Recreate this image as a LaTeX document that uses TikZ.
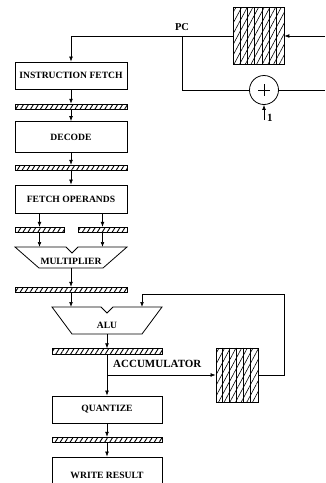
\documentclass[tikz,border=0pt]{standalone}
\usepackage{fontspec}
\setmainfont{Liberation Serif}
\usetikzlibrary{patterns.meta,arrows.meta}

\tikzset{
  stage/.style={draw, line width=0.8pt, minimum width=112pt, minimum height=27pt,
    inner sep=0pt, font=\fontsize{9.6}{11}\selectfont\bfseries},
  latch/.style={draw, line width=0.8pt, minimum width=112pt, minimum height=5.5pt, inner sep=0pt,
    pattern={Lines[angle=58,distance=4.2pt,line width=0.9pt]}},
  reg/.style={draw, line width=0.8pt, inner sep=0pt,
    pattern={Lines[angle=62,distance=5pt,line width=0.6pt]}},
  wire/.style={line width=0.7pt},
  flow/.style={line width=0.7pt, -{Latex[length=5pt,width=3.8pt]}},
  lbl/.style={inner sep=0pt, font=\fontsize{10.5}{12}\selectfont\bfseries},
}

\begin{document}
\begin{tikzpicture}[x=1pt, y=-1pt]
    \clip (0,0) rectangle (325,483);

    % PC register and incrementer
    \node[reg, minimum width=51pt, minimum height=57pt] (pcreg) at (258.5,36) {};
    \foreach \i in {1,...,6}
        \draw[wire] ([xshift=\i*7.3pt]pcreg.north west) -- ([xshift=\i*7.3pt]pcreg.south west);
    \node[draw, circle, line width=0.8pt, minimum size=29pt, inner sep=0pt] (adder) at (264,90) {};
    \draw[wire] ([yshift=6pt]adder.center) -- ([yshift=-6pt]adder.center)
                ([xshift=-6pt]adder.center) -- ([xshift=6pt]adder.center);
    \coordinate (pcin) at (325,36);
    \coordinate (addout) at (325,90);
    \coordinate (split) at (182,36);
    \coordinate (one) at (264,120);
    \node[lbl, anchor=south] (pclbl) at (182,31) {PC};
    \node[lbl, anchor=west, font=\fontsize{11}{12}\selectfont\bfseries] (onelbl) at (267,118) {1};

    % Pipeline stages
    \node[stage] (ifetch) at (71,75.5) {INSTRUCTION FETCH};
    \node[latch] (l1) at (71,107) {};
    \node[stage, minimum height=31pt] (decode) at (71,137) {DECODE};
    \node[latch] (l2) at (71,168) {};
    \node[stage, minimum height=28pt] (fetchop) at (71,199) {FETCH OPERANDS};
    \node[latch, minimum width=49pt] (l3a) at (39.5,230) {};
    \node[latch, minimum width=49pt] (l3b) at (102.5,230) {};

    % Multiplier
    \draw[line width=0.8pt] (15,247) -- (66,247) -- (72,253) -- (78,247) -- (127,247)
        -- (103,268) -- (39,268) -- cycle;
    \node[lbl, font=\fontsize{9.6}{11}\selectfont\bfseries] (mul) at (71,261) {MULTIPLIER};
    \coordinate (mulina) at (39.5,247);
    \coordinate (mulinb) at (102.5,247);
    \coordinate (mulout) at (71,268);
    \node[latch] (l4) at (71,290) {};

    % ALU
    \draw[line width=0.8pt] (52,307) -- (101,307) -- (107,313) -- (113,307) -- (162,307)
        -- (142,334) -- (72,334) -- cycle;
    \node[lbl, font=\fontsize{9.6}{11}\selectfont\bfseries] (alu) at (107,325) {ALU};
    \coordinate (aluina) at (71,307);
    \coordinate (aluinb) at (142,307);
    \coordinate (aluout) at (107,334);
    \node[latch, minimum width=110pt] (l5) at (107,351.5) {};

    % Accumulator
    \coordinate (tap) at (107,375);
    \coordinate (fbcorner) at (284,294);
    \node[reg, minimum width=42pt, minimum height=54pt] (accreg) at (237,375) {};
    \foreach \i in {1,...,5}
        \draw[wire] ([xshift=\i*7pt]accreg.north west) -- ([xshift=\i*7pt]accreg.south west);
    \node[lbl, anchor=west, font=\fontsize{11}{12}\selectfont\bfseries] (acclbl) at (113,364) {ACCUMULATOR};

    \node[stage, minimum width=110pt] (quant) at (107,409.5) {QUANTIZE};
    \node[latch, minimum width=110pt] (l6) at (107,440) {};
    \node[stage, minimum width=110pt, minimum height=36pt] (write) at (107,475) {WRITE RESULT};

    % Connections
    \draw[flow] (pcin) -- (pcreg.east);
    \draw[flow] (pcreg.west) -| (ifetch.north);
    \draw[wire] (split) |- (adder.west);
    \draw[wire] (adder.east) -- (addout);
    \draw[flow] (one) -- (adder.south);

    \draw[flow] (ifetch.south) -- (l1.north);
    \draw[flow] (l1.south) -- (decode.north);
    \draw[flow] (decode.south) -- (l2.north);
    \draw[flow] (l2.south) -- (fetchop.north);
    \draw[flow] (fetchop.south -| l3a) -- (l3a.north);
    \draw[flow] (fetchop.south -| l3b) -- (l3b.north);
    \draw[flow] (l3a.south) -- (mulina);
    \draw[flow] (l3b.south) -- (mulinb);
    \draw[flow] (mulout) -- (l4.north);
    \draw[flow] (l4.south) -- (aluina);
    \draw[flow] (aluout) -- (l5.north);
    \draw[flow] (l5.south) -- (quant.north);
    \draw[flow] (tap) -- (accreg.west);
    \draw[flow] (accreg.east) -| (fbcorner) -| (aluinb);
    \draw[flow] (quant.south) -- (l6.north);
    \draw[flow] (l6.south) -- (write.north);

\end{tikzpicture}
\end{document}
